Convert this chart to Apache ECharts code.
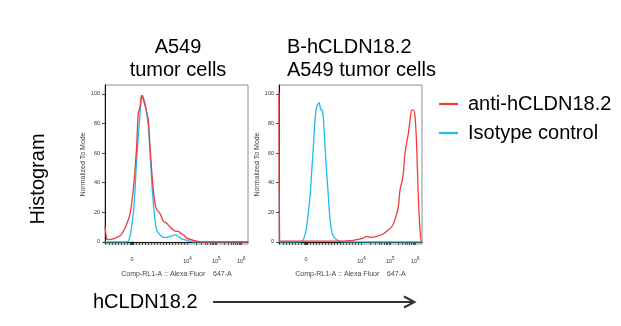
<!DOCTYPE html>
<html>
<head>
<meta charset="utf-8">
<script src="https://cdn.jsdelivr.net/npm/echarts@6/dist/echarts.min.js"></script>
<style>
  html, body { margin: 0; padding: 0; background: #fff; }
  #chart { width: 621px; height: 326px; }
</style>
</head>
<body>
<div id="chart"></div>
<script>
// Flow histograms on a biexponential display scale: x = display channel (0-1000), y = % of mode
const seriesNames = ['anti-hCLDN18.2', 'Isotype control'];
const panelTitles = [['A549', 'tumor cells'], ['B-hCLDN18.2', 'A549 tumor cells']];

// A549 tumor cells
const antiA549 = [[0,11],[12,2],[23,1.5],[58,2],[82,3],[105,4],[128,7],[152,12],[175,19],[198,35],[210,49],[221,64],[233,87],[245,91],[256,99],[268,96],[280,92],[291,88],[303,82],[315,64],[326,49],[338,35],[350,26],[361,22],[385,19],[408,14],[431,12.6],[455,10],[478,8],[501,7],[513,7],[524,6],[548,4.7],[571,2.5],[618,1],[664,0],[1000,0]];
const isoA549 = [[0,0],[152,0],[163,0.5],[175,3.6],[186,10],[198,19],[210,35],[221,55],[233,71],[245,87],[256,98],[263,99],[273,96],[280,94],[291,87],[303,78],[315,60],[326,42],[338,26],[350,15],[361,8],[385,4.7],[408,3],[431,3],[455,3.6],[490,4.7],[513,3.6],[536,2],[571,1],[618,0],[1000,0]];

// B-hCLDN18.2 A549 tumor cells
const antiB = [[0,101],[4,1],[12,0.5],[450,0.5],[497,0.7],[543,1.4],[590,2.5],[613,3.6],[636,3],[683,3.6],[730,5.4],[765,8],[788,10],[811,15],[835,24],[846,35],[858,40],[869,46],[881,60],[893,67],[904,73],[916,82],[928,89],[939,89],[951,85],[963,64],[974,31],[986,8],[995,0],[1000,0]];
const isoB = [[0,0],[147,0],[170,1.4],[193,10],[217,31],[228,46],[240,64],[252,82],[263,91],[280,94],[291,90],[305,88],[315,76],[329,53],[345,31],[357,15],[375,4.7],[403,1.4],[450,0],[1000,0]];

// axis ticks
const xTickValues = [189, 577, 778, 953];
const xTickLabels = ['0', '10{s|4}', '10{s|5}', '10{s|6}'];
const yTickValues = [0, 20, 40, 60, 80, 100];

const RED = '#f23a3a';
const CYAN = '#1cbdee';
const FONT = 'Liberation Sans, Arial, sans-serif';

// minor ticks: linear region around zero plus log steps within each decade
const xMinorTicks = [];
for (let c = 30; c < 560; c += 21) xMinorTicks.push(c);
[183, 186, 192, 195].forEach(v => xMinorTicks.push(v));
for (let d = 1; d < xTickValues.length - 1; d++) {
  const a = xTickValues[d], b = xTickValues[d + 1];
  for (let k = 2; k <= 9; k++) xMinorTicks.push(a + (b - a) * Math.log10(k));
}
const xAllTicks = xTickValues.concat(xMinorTicks).sort((p, q) => p - q);

const chart = echarts.init(document.getElementById('chart'), null, { renderer: 'canvas' });

function xAxisFor(gi) {
  return {
    type: 'value', gridIndex: gi, min: 0, max: 1000,
    name: 'Comp-RL1-A :: Alexa Fluor    647-A',
    nameLocation: 'middle', nameGap: 27,
    nameTextStyle: { fontSize: 7, color: '#444', fontFamily: FONT },
    axisLine: { show: true, lineStyle: { color: '#111', width: 1 } },
    axisTick: { show: true, length: 3, customValues: xAllTicks, lineStyle: { color: '#222', width: 0.8 } },
    axisLabel: {
      show: true, customValues: xTickValues, margin: 12,
      fontSize: 5.5, color: '#333', fontFamily: FONT,
      formatter: v => xTickLabels[xTickValues.indexOf(v)] || '',
      rich: { s: { fontSize: 4.5, color: '#333', fontFamily: FONT, verticalAlign: 'top', padding: [0, 0, 5, 0] } }
    },
    splitLine: { show: false }
  };
}
function yAxisFor(gi) {
  return {
    type: 'value', gridIndex: gi, min: -1.5, max: 106,
    name: 'Normalized To Mode', nameLocation: 'middle', nameGap: 17,
    nameTextStyle: { fontSize: 7, color: '#444', fontFamily: FONT },
    axisLine: { show: true, lineStyle: { color: '#111', width: 1 } },
    axisTick: { show: true, length: 3, customValues: yTickValues, lineStyle: { color: '#222', width: 0.8 } },
    axisLabel: { show: true, customValues: yTickValues, margin: 5, fontSize: 5.5, color: '#333', fontFamily: FONT },
    splitLine: { show: false }
  };
}
function lineSeries(name, data, color, gi) {
  return {
    name, type: 'line', data, xAxisIndex: gi, yAxisIndex: gi,
    showSymbol: false, symbol: 'none', smooth: 0.3,
    lineStyle: { color, width: 1.3 }, itemStyle: { color },
    silent: true, animation: false, z: name === seriesNames[0] ? 3 : 2
  };
}

const gridCommon = { top: 85, height: 159, width: 143, show: true, borderColor: '#8c8c8c', borderWidth: 1, backgroundColor: '#fff' };

const titleTexts = [];
panelTitles[0].forEach((t, i) => titleTexts.push({
  type: 'text', x: 178, y: 47 + i * 23,
  style: { text: t, fontSize: 20, fontFamily: FONT, fill: '#000', textAlign: 'center', textVerticalAlign: 'middle' }
}));
panelTitles[1].forEach((t, i) => titleTexts.push({
  type: 'text', x: 287, y: 47 + i * 23,
  style: { text: t, fontSize: 20, fontFamily: FONT, fill: '#000', textAlign: 'left', textVerticalAlign: 'middle' }
}));

chart.setOption({
  animation: false,
  backgroundColor: '#fff',
  grid: [Object.assign({ left: 105 }, gridCommon), Object.assign({ left: 279 }, gridCommon)],
  xAxis: [xAxisFor(0), xAxisFor(1)],
  yAxis: [yAxisFor(0), yAxisFor(1)],
  legend: {
    orient: 'vertical', left: 434, top: 89, itemGap: 9,
    icon: 'rect', itemWidth: 19, itemHeight: 2.2,
    textStyle: { fontSize: 20, color: '#000', fontFamily: FONT, padding: [0, 0, 0, 5] },
    data: seriesNames, selectedMode: false
  },
  series: [
    lineSeries(seriesNames[1], isoA549, CYAN, 0),
    lineSeries(seriesNames[0], antiA549, RED, 0),
    lineSeries(seriesNames[1], isoB, CYAN, 1),
    lineSeries(seriesNames[0], antiB, RED, 1)
  ],
  graphic: titleTexts.concat([
    { type: 'text', x: 38, y: 179, rotation: Math.PI / 2,
      style: { text: 'Histogram', fontSize: 20, fontFamily: FONT, fill: '#000', textAlign: 'center', textVerticalAlign: 'middle' } },
    { type: 'text', x: 93, y: 302,
      style: { text: 'hCLDN18.2', fontSize: 20, fontFamily: FONT, fill: '#000', textAlign: 'left', textVerticalAlign: 'middle' } },
    { type: 'line', shape: { x1: 213, y1: 302, x2: 414, y2: 302 }, style: { stroke: '#333', lineWidth: 2 } },
    { type: 'polyline', shape: { points: [[404, 296.5], [414.5, 302], [404, 307.5]] }, style: { stroke: '#333', lineWidth: 2, fill: null } }
  ])
});
</script>
</body>
</html>
